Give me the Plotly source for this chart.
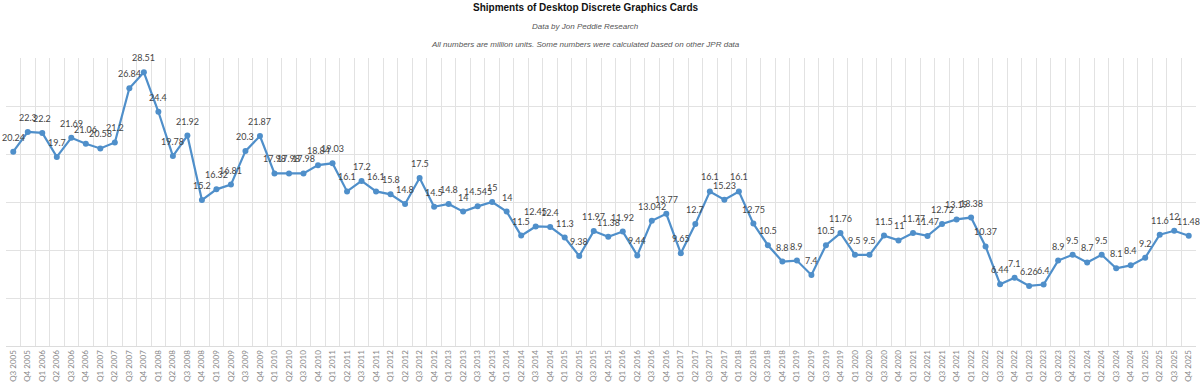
import plotly.graph_objects as go

quarters = []
for year in range(2005, 2026):
    for q in (1, 2, 3, 4):
        if year == 2005 and q < 3:
            continue
        quarters.append(f"Q{q} {year}")

shipments = [
    20.24, 22.3,
    22.2, 19.7, 21.69, 21.06,
    20.58, 21.2, 26.84, 28.51,
    24.4, 19.78, 21.92, 15.2,
    16.32, 16.81, 20.3, 21.87,
    17.98, 17.98, 17.98, 18.84,
    19.03, 16.1, 17.2, 16.1,
    15.8, 14.8, 17.5, 14.5,
    14.8, 14, 14.545, 15,
    14, 11.5, 12.45, 12.4,
    11.3, 9.38, 11.97, 11.38,
    11.92, 9.44, 13.042, 13.77,
    9.65, 12.7, 16.1, 15.23,
    16.1, 12.75, 10.5, 8.8,
    8.9, 7.4, 10.5, 11.76,
    9.5, 9.5, 11.5, 11,
    11.77, 11.47, 12.72, 13.19,
    13.38, 10.37, 6.44, 7.1,
    6.26, 6.4, 8.9, 9.5,
    8.7, 9.5, 8.1, 8.4,
    9.2, 11.6, 12, 11.48,
]
labels = [f"{v:g}" for v in shipments]

title = "Shipments of Desktop Discrete Graphics Cards"
subtitle1 = "Data by Jon Peddie Research"
subtitle2 = "All numbers are million units. Some numbers were calculated based on other JPR data"

fig = go.Figure()
fig.add_trace(go.Scatter(
    x=quarters, y=shipments, mode="lines+markers",
    line=dict(color="#4f8fca", width=2.2),
    marker=dict(color="#4f8fca", size=6),
    cliponaxis=False, hoverinfo="x+y",
))

annotations = []
for q, v, t in zip(quarters, shipments, labels):
    annotations.append(dict(
        x=q, y=v, xref="x", yref="y", text=t, showarrow=False,
        yanchor="bottom", yshift=7,
        font=dict(family="Lato, Open Sans, sans-serif", size=9, color="#444"),
    ))

annotations += [
    dict(text=f"<b>{title}</b>", xref="paper", yref="paper", x=0.487, y=1,
         yanchor="middle", yshift=51, showarrow=False,
         font=dict(family="Liberation Sans, Arial, sans-serif", size=10, color="#111")),
    dict(text=f"<i>{subtitle1}</i>", xref="paper", yref="paper", x=0.487, y=1,
         yanchor="middle", yshift=32, showarrow=False,
         font=dict(family="Liberation Sans, Arial, sans-serif", size=8, color="#555")),
    dict(text=f"<i>{subtitle2}</i>", xref="paper", yref="paper", x=0.487, y=1,
         yanchor="middle", yshift=14, showarrow=False,
         font=dict(family="Liberation Sans, Arial, sans-serif", size=8, color="#555")),
]

fig.update_layout(
    width=1200, height=392,
    margin=dict(l=6, r=4, t=58, b=46),
    paper_bgcolor="white", plot_bgcolor="white",
    showlegend=False,
    font=dict(family="Liberation Sans, Arial, sans-serif"),
    xaxis=dict(
        type="category", range=[-0.5, len(quarters) - 0.5], automargin=False,
        tickson="boundaries", showgrid=True, gridcolor="#e2e2e2", gridwidth=1,
        tickangle=-90, tickfont=dict(family="Lato, Open Sans, sans-serif", size=8, color="#888"),
        showline=True, linecolor="#dcdcdc", ticks="", zeroline=False,
    ),
    yaxis=dict(
        range=[0, 30], dtick=5, showgrid=True, gridcolor="#e2e2e2", automargin=False,
        showticklabels=False, zeroline=False, showline=False,
    ),
    annotations=annotations,
)

fig.write_html(
    "out.html",
    config={"displayModeBar": False},
    post_script="document.body.style.margin='0';document.body.style.overflow='hidden';",
)
